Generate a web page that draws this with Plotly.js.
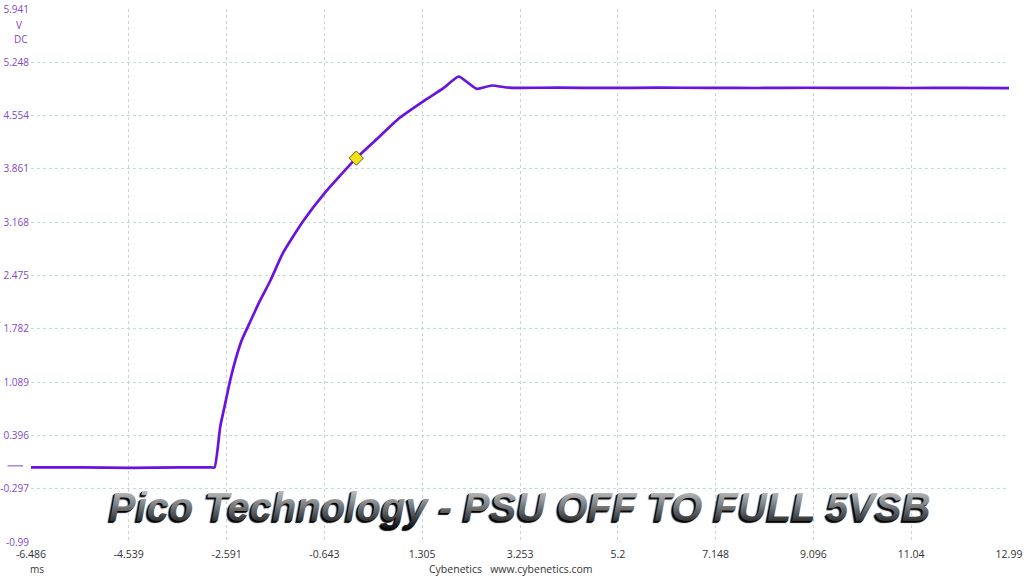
<!DOCTYPE html>
<html>
<head>
<meta charset="utf-8">
<script src="https://cdn.plot.ly/plotly-3.0.1.min.js"></script>
<style>
  html, body { margin: 0; padding: 0; background: #fff; }
  #chart { width: 1024px; height: 576px; }
</style>
</head>
<body>
<div id="chart"></div>
<script>
// Time axis (ms) and voltage (V DC) read from the scope capture
const timeMs = [-6.486, -5.5, -4.5, -3.5, -2.9, -2.831, -2.717, -2.631, -2.532, -2.432, -2.299, -2.133, -1.934, -1.711, -1.470, -1.072, -0.639, -0.008, 0.456, 0.855, 1.319, 1.727, 2.030, 2.225, 2.392, 2.691, 2.99, 3.255, 4.0, 5.0, 6.0, 7.0, 8.0, 9.0, 10.0, 11.0, 12.0, 12.99];
const voltage = [-0.02, -0.02, -0.025, -0.02, -0.02, -0.02, 0.513, 0.773, 1.077, 1.337, 1.618, 1.857, 2.138, 2.420, 2.767, 3.178, 3.547, 4.002, 4.283, 4.526, 4.738, 4.912, 5.063, 4.977, 4.903, 4.946, 4.920, 4.916, 4.918, 4.915, 4.918, 4.916, 4.914, 4.917, 4.915, 4.914, 4.916, 4.912];

// Cursor marker
const cursorT = [-0.008];
const cursorV = [4.002];

// Tick labels
const xTicks = [-6.486, -4.539, -2.591, -0.643, 1.305, 3.253, 5.2, 7.148, 9.096, 11.04, 12.99];
const xTickText = ['-6.486', '-4.539', '-2.591', '-0.643', '1.305', '3.253', '5.2', '7.148', '9.096', '11.04', '12.99'];
const yTicks = [5.941, 5.248, 4.554, 3.861, 3.168, 2.475, 1.782, 1.089, 0.396, -0.297, -0.99];
const yTickText = ['5.941', '5.248', '4.554', '3.861', '3.168', '2.475', '1.782', '1.089', '0.396', '-0.297', '-0.99'];

const titleText = 'Pico Technology - PSU OFF TO FULL 5VSB';

const purple = '#6a12e0';
const labelPurple = '#8048cc';

const traces = [
  {
    x: timeMs, y: voltage, type: 'scatter', mode: 'lines',
    line: { color: purple, width: 2.7, shape: 'spline', smoothing: 0.5 }, hoverinfo: 'skip'
  },
  {
    x: cursorT, y: cursorV, type: 'scatter', mode: 'markers',
    marker: { symbol: 'diamond', size: 11, color: '#f2e21a', line: { color: '#6b5e10', width: 1 } },
    hoverinfo: 'skip'
  }
];

const layout = {
  width: 1024, height: 576,
  margin: { l: 31, r: 15, t: 9, b: 34 },
  paper_bgcolor: '#ffffff', plot_bgcolor: '#ffffff',
  showlegend: false,
  font: { family: '"Open Sans", "Noto Sans", sans-serif', size: 10, color: '#333' },
  xaxis: {
    range: [-6.486, 12.99], tickmode: 'array', tickvals: xTicks, ticktext: xTickText,
    showgrid: true, gridcolor: '#cdd1d5', griddash: 'dot', gridwidth: 1,
    zeroline: false, showline: false, ticks: '', ticklabelstandoff: 4,
    tickfont: { size: 10.5, color: '#333' }
  },
  yaxis: {
    range: [-0.99, 5.941], tickmode: 'array', tickvals: yTicks, ticktext: yTickText,
    showgrid: true, gridcolor: '#bddbe2', griddash: 'dot', gridwidth: 1,
    zeroline: false, showline: false, ticks: '', ticklabelstandoff: 1,
    tickfont: { size: 10, color: labelPurple }
  },
  shapes: [
    { type: 'line', xref: 'paper', yref: 'y', x0: -0.024, x1: -0.008, y0: 0, y1: 0,
      line: { color: labelPurple, width: 1 } }
  ],
  annotations: [
    { text: 'V', xref: 'paper', yref: 'paper', x: -0.0125, y: 0.9705, xanchor: 'center', yanchor: 'middle',
      showarrow: false, font: { size: 10, color: labelPurple } },
    { text: 'DC', xref: 'paper', yref: 'paper', x: -0.0098, y: 0.9435, xanchor: 'center', yanchor: 'middle',
      showarrow: false, font: { size: 10, color: labelPurple } },
    { text: 'ms', xref: 'paper', yref: 'paper', x: 0.0066, y: -0.0505, xanchor: 'center', yanchor: 'middle',
      showarrow: false, font: { size: 10, color: '#333' } },
    { text: 'Cybenetics   www.cybenetics.com', xref: 'paper', yref: 'paper', x: 0.4905, y: -0.0515,
      xanchor: 'center', yanchor: 'middle', showarrow: false, font: { size: 10.5, color: '#333' } },
    { text: titleText, xref: 'paper', yref: 'paper', x: 0.4997, y: 0.066, xanchor: 'center', yanchor: 'middle',
      showarrow: false,
      font: { family: '"Liberation Sans", Arial, sans-serif', size: 40, color: '#4a4a4a',
              weight: 'bold', style: 'italic', shadow: '-1px 1px 0px #000, -2px 2px 1px #111' } }
  ]
};

Plotly.newPlot('chart', traces, layout, { staticPlot: true, displayModeBar: false }).then(function (gd) {
  const svg = gd.querySelector('svg.main-svg');
  const ns = 'http://www.w3.org/2000/svg';
  let defs = svg.querySelector('defs');
  if (!defs) { defs = document.createElementNS(ns, 'defs'); svg.insertBefore(defs, svg.firstChild); }
  const grad = document.createElementNS(ns, 'linearGradient');
  grad.setAttribute('id', 'titleGrad');
  grad.setAttribute('x1', '0'); grad.setAttribute('y1', '0');
  grad.setAttribute('x2', '0'); grad.setAttribute('y2', '1');
  [['0', '#d8d8d8'], ['0.45', '#808080'], ['1', '#0a0a0a']].forEach(function (s) {
    const st = document.createElementNS(ns, 'stop');
    st.setAttribute('offset', s[0]); st.setAttribute('stop-color', s[1]);
    grad.appendChild(st);
  });
  defs.appendChild(grad);
  gd.querySelectorAll('.annotation-text').forEach(function (t) {
    if (t.textContent.indexOf('Pico') === 0) { t.style.fill = 'url(#titleGrad)'; }
  });
});
</script>
</body>
</html>
